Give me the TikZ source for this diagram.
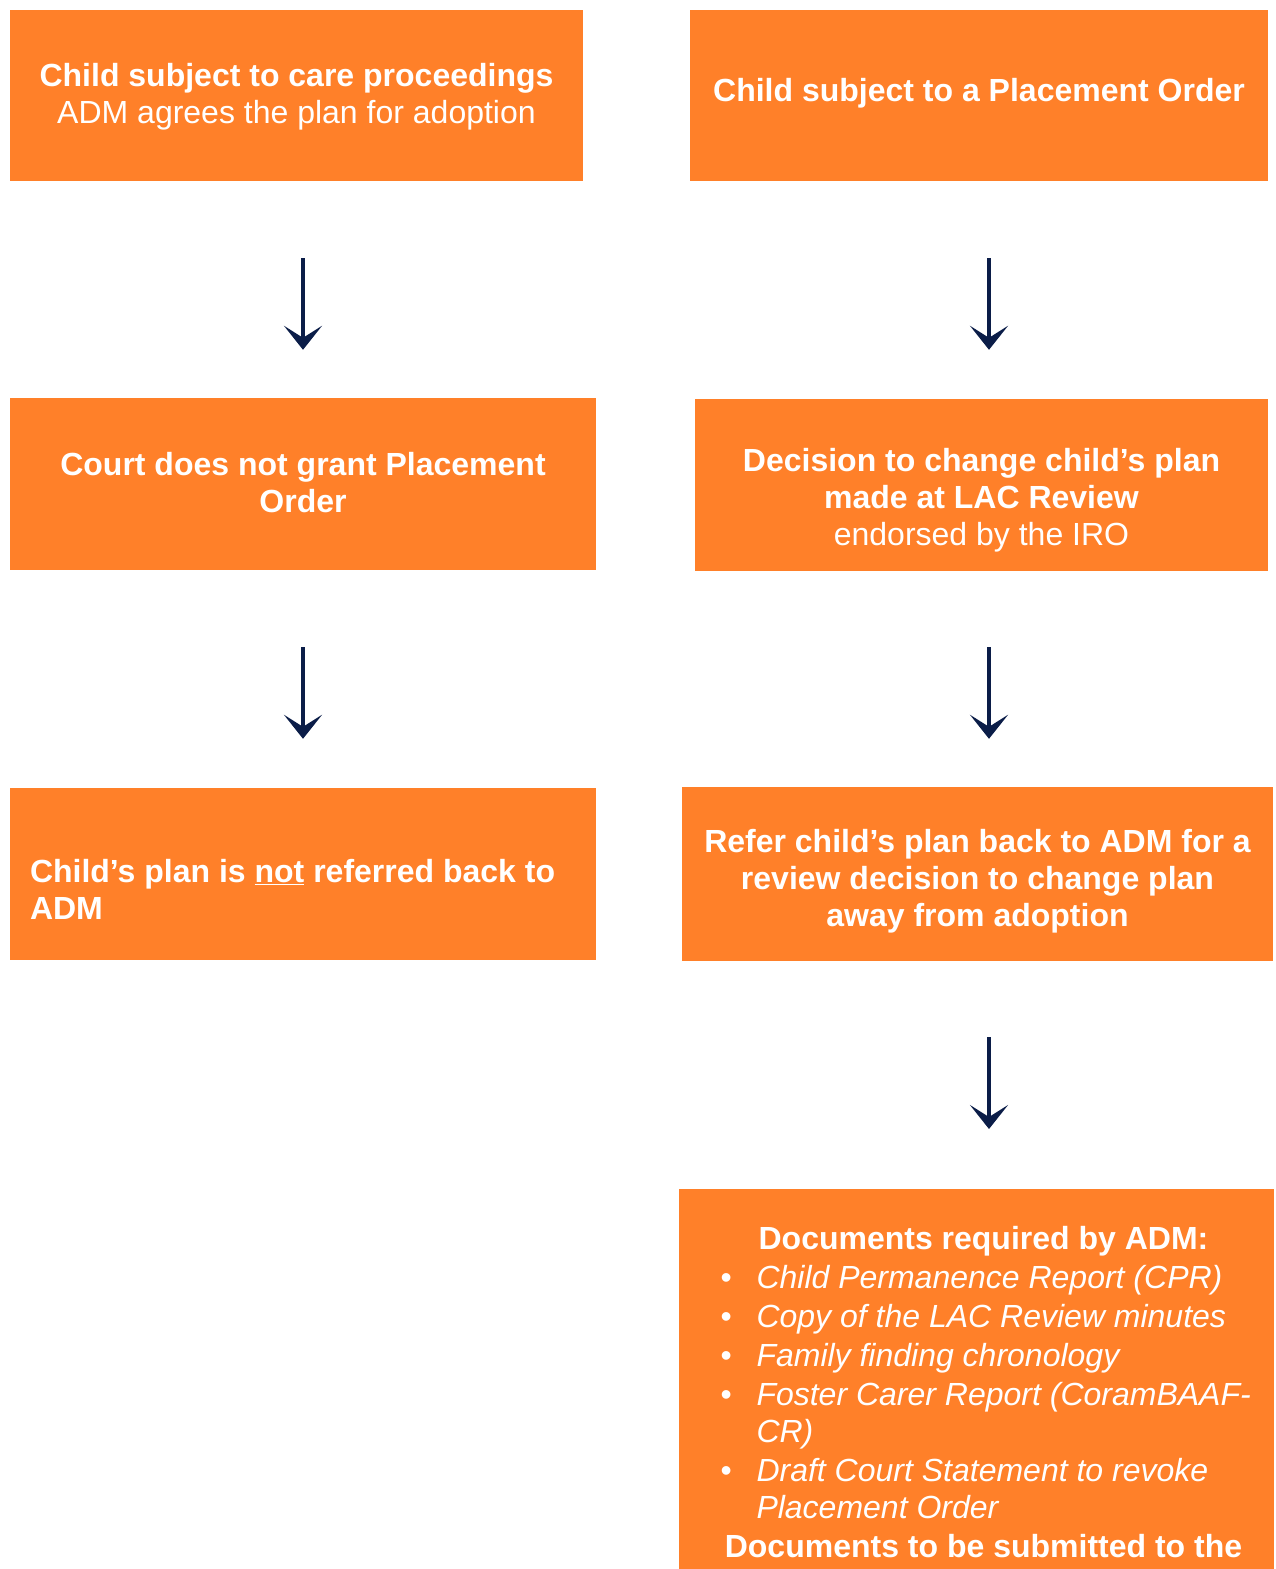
\documentclass[tikz,border=0pt]{standalone}
\usepackage{fontspec}
\setmainfont{Liberation Sans}
\usetikzlibrary{arrows.meta}

\definecolor{flowor}{HTML}{FF8029}
\definecolor{flownavy}{HTML}{0B1D48}

% box text: width, height, top shift, content
\newcommand{\boxtext}[4]{\parbox[c][#2][c]{#1}{\vspace*{#3}#4}}
\newcommand{\docitem}[1]{\par\hangindent=41pt\hangafter=1\noindent\makebox[41pt][l]{\hspace{5pt}\textbullet}\textit{#1}\par}

\tikzset{
  stepbox/.style={fill=flowor, text=white, inner sep=0pt, font=\fontsize{32}{37}\selectfont},
  flow/.style={draw=flownavy, line width=4.5pt, -{Stealth[length=24pt,width=38pt,inset=12pt]}},
}

\begin{document}
\begin{tikzpicture}[x=1pt, y=-1pt]

\useasboundingbox (0, 0) rectangle (1276, 1569);
\clip (0, 0) rectangle (1276, 1569); % limit img size

% left column
\node[stepbox, minimum width=573pt, minimum height=171pt] (b1) at (296.5, 95.5)
  {\boxtext{560pt}{171pt}{2pt}{\centering\textbf{Child subject to care proceedings}\\ADM agrees the plan for adoption}};
\node[stepbox, minimum width=586pt, minimum height=172pt] (b3) at (303, 484)
  {\boxtext{560pt}{172pt}{-2pt}{\centering\textbf{Court does not grant Placement\\Order}}};
\node[stepbox, minimum width=586pt, minimum height=172pt] (b5) at (303, 874)
  {\boxtext{546pt}{172pt}{30pt}{\raggedright\textbf{Child’s plan is \underline{not} referred back to\\ADM}}};

% right column
\node[stepbox, minimum width=578pt, minimum height=171pt] (b2) at (979, 95.5)
  {\boxtext{560pt}{171pt}{-4pt}{\centering\textbf{Child subject to a Placement Order}}};
\node[stepbox, minimum width=573pt, minimum height=172pt] (b4) at (981.5, 485)
  {\boxtext{560pt}{172pt}{30pt}{\centering\textbf{Decision to change child’s plan\\made at LAC Review}\\endorsed by the IRO}};
\node[stepbox, minimum width=591pt, minimum height=174pt] (b6) at (977.5, 874)
  {\boxtext{580pt}{174pt}{14pt}{\centering\textbf{Refer child’s plan back to ADM for a\\review decision to change plan\\away from adoption}}};

% documents box, runs off the page
\node[stepbox, anchor=north, minimum width=595pt, minimum height=420pt] (b7) at (976.5, 1189)
  {\hspace*{14pt}\parbox[c][420pt][t]{536pt}{\vspace*{35pt}\setlength{\parskip}{2pt}%
    {\centering\textbf{Documents required by ADM:}\par}
    \docitem{Child Permanence Report (CPR)}
    \docitem{Copy of the LAC Review minutes}
    \docitem{Family finding chronology}
    \docitem{Foster Carer Report (CoramBAAF-\\CR)}
    \docitem{Draft Court Statement to revoke\\Placement Order}
    {\centering\textbf{Documents to be submitted to the}\par}}};

% arrows
\draw[flow, shorten <=77pt, shorten >=48pt] (b1.south -| b3.south) -- (b3.north);
\draw[flow, shorten <=77pt, shorten >=49pt] (b3.south) -- (b5.north);
\draw[flow, shorten <=77pt, shorten >=49pt] ([xshift=10pt]b2.south) -- ([xshift=10pt]b2.south |- b4.north);
\draw[flow, shorten <=76pt, shorten >=48pt] ([xshift=7.5pt]b4.south) -- ([xshift=7.5pt]b4.south |- b6.north);
\draw[flow, shorten <=76pt, shorten >=60pt] ([xshift=11.5pt]b6.south) -- ([xshift=11.5pt]b6.south |- b7.north);

\end{tikzpicture}
\end{document}
